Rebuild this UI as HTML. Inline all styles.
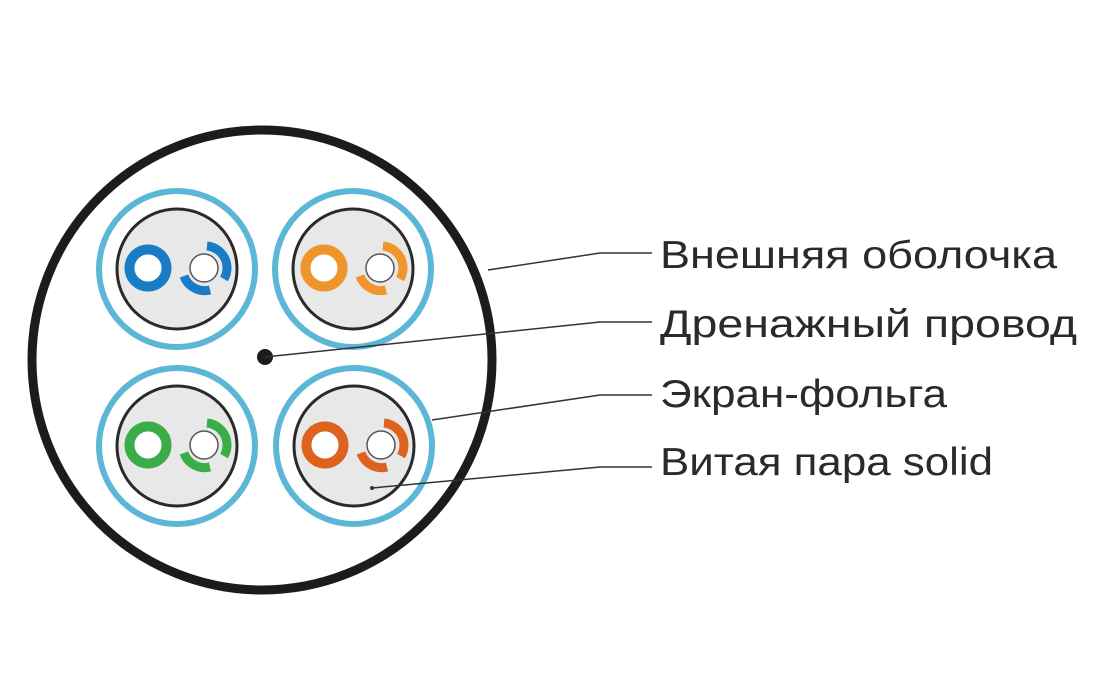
<!DOCTYPE html>
<html><head><meta charset="utf-8"><style>html,body{margin:0;padding:0;background:#fff}svg{display:block}</style></head>
<body>
<svg width="1094" height="700" viewBox="0 0 1094 700" xmlns="http://www.w3.org/2000/svg">
<defs>
<g id="pairbase">
<circle r="78" fill="#fff" stroke="#5bb7d5" stroke-width="6"/>
<circle r="60" fill="#e8e8e8" stroke="#2a2a2a" stroke-width="3"/>
</g>
</defs>
<circle cx="262" cy="360" r="230" fill="#fff" stroke="#1c1c1c" stroke-width="9"/>
<g transform="translate(177,269)">
<use href="#pairbase"/>
<circle cx="-29" cy="-1" r="18.5" fill="none" stroke="#1a7cc4" stroke-width="10"/>
<circle cx="-29" cy="-1" r="13.5" fill="#fff"/>
<circle cx="27" cy="-1" r="14" fill="#fff" stroke="#555" stroke-width="1.5"/>
<path d="M 30 -23 A 22 22 0 0 1 47 10" fill="none" stroke="#1a7cc4" stroke-width="9"/>
<path d="M 33 21 A 22 22 0 0 1 7 7" fill="none" stroke="#1a7cc4" stroke-width="9"/>
</g>
<g transform="translate(353,269)">
<use href="#pairbase"/>
<circle cx="-29" cy="-1" r="18.5" fill="none" stroke="#f0952a" stroke-width="10"/>
<circle cx="-29" cy="-1" r="13.5" fill="#fff"/>
<circle cx="27" cy="-1" r="14" fill="#fff" stroke="#555" stroke-width="1.5"/>
<path d="M 30 -23 A 22 22 0 0 1 47 10" fill="none" stroke="#f0952a" stroke-width="9"/>
<path d="M 33 21 A 22 22 0 0 1 7 7" fill="none" stroke="#f0952a" stroke-width="9"/>
</g>
<g transform="translate(177,446)">
<use href="#pairbase"/>
<circle cx="-29" cy="-1" r="18.5" fill="none" stroke="#3aad48" stroke-width="10"/>
<circle cx="-29" cy="-1" r="13.5" fill="#fff"/>
<circle cx="27" cy="-1" r="14" fill="#fff" stroke="#555" stroke-width="1.5"/>
<path d="M 30 -23 A 22 22 0 0 1 47 10" fill="none" stroke="#3aad48" stroke-width="9"/>
<path d="M 33 21 A 22 22 0 0 1 7 7" fill="none" stroke="#3aad48" stroke-width="9"/>
</g>
<g transform="translate(354,446)">
<use href="#pairbase"/>
<circle cx="-29" cy="-1" r="18.5" fill="none" stroke="#dc621e" stroke-width="10"/>
<circle cx="-29" cy="-1" r="13.5" fill="#fff"/>
<circle cx="27" cy="-1" r="14" fill="#fff" stroke="#555" stroke-width="1.5"/>
<path d="M 30 -23 A 22 22 0 0 1 47 10" fill="none" stroke="#dc621e" stroke-width="9"/>
<path d="M 33 21 A 22 22 0 0 1 7 7" fill="none" stroke="#dc621e" stroke-width="9"/>
</g>
<circle cx="265" cy="357" r="8" fill="#1c1c1c"/>
<g fill="none" stroke="#333" stroke-width="1.5">
<polyline points="488,270 600,253 652,253"/>
<polyline points="265,357 600,322 652,322"/>
<polyline points="432,420 600,395 652,395"/>
<polyline points="372,488 600,467 652,467"/>
</g>
<circle cx="372" cy="488" r="2" fill="#333"/>
<g font-family="Liberation Sans, sans-serif" font-size="39" fill="#2a2a2a">
<text x="660" y="268" textLength="397" lengthAdjust="spacingAndGlyphs">Внешняя оболочка</text>
<text x="660" y="337" textLength="417" lengthAdjust="spacingAndGlyphs">Дренажный провод</text>
<text x="660" y="407" textLength="287" lengthAdjust="spacingAndGlyphs">Экран-фольга</text>
<text x="660" y="475" textLength="333" lengthAdjust="spacingAndGlyphs">Витая пара solid</text>
</g>
</svg>
</body></html>
